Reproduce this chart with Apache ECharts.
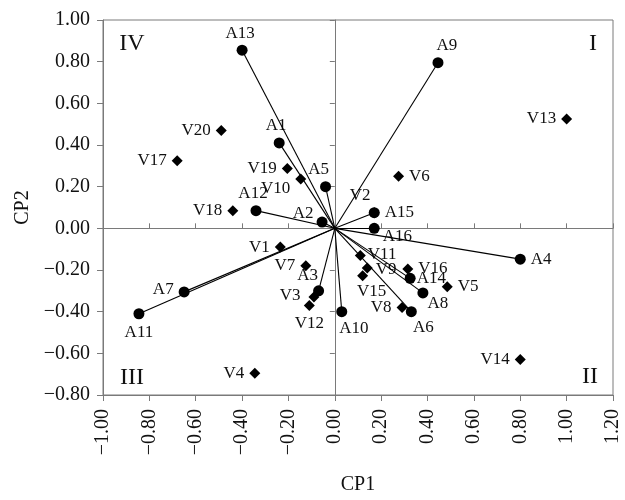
<!DOCTYPE html>
<html>
<head>
<meta charset="utf-8">
<script src="https://cdn.jsdelivr.net/npm/echarts@6/dist/echarts.min.js"></script>
<style>html,body{margin:0;padding:0;background:#fff}#c{width:625px;height:500px}</style>
</head>
<body>
<div id="c"></div>
<script>
// ---- data ----
const aNames = ['A1','A2','A3','A4','A5','A6','A7','A8','A9','A10','A11','A12','A13','A14','A15','A16'];
const aX = [-0.24,-0.055,-0.07,0.80,-0.04,0.33,-0.65,0.38,0.445,0.03,-0.845,-0.34,-0.40,0.325,0.17,0.17];
const aY = [0.41,0.03,-0.30,-0.148,0.20,-0.40,-0.305,-0.31,0.795,-0.40,-0.41,0.085,0.855,-0.24,0.075,0.0];

const vNames = ['V1','V2','V3','V4','V5','V6','V7','V8','V9','V10','V11','V12','V13','V14','V15','V16','V17','V18','V19','V20'];
const vX = [-0.235,0.17,-0.09,-0.345,0.485,0.275,-0.125,0.29,0.14,-0.147,0.11,-0.11,1.00,0.80,0.12,0.315,-0.68,-0.44,-0.205,-0.49];
const vY = [-0.09,0.075,-0.33,-0.695,-0.28,0.25,-0.18,-0.38,-0.19,0.237,-0.13,-0.37,0.525,-0.63,-0.227,-0.195,0.325,0.085,0.287,0.47];

const quadrantLabels = ['I','II','III','IV'];
const xAxisName = 'CP1';
const yAxisName = 'CP2';

// ---- label placement (style) ----
const labelPlace = {
  A1:['top',[-3,2]], A2:['left',[2,-9]], A3:['top',[-11,4]], A4:['right',[0,0]],
  A5:['top',[-7,2]], A6:['bottom',[12,-3]], A7:['left',[0,-2]], A8:['right',[-6,11]],
  A9:['top',[9,2]], A10:['bottom',[12,-2]], A11:['bottom',[0,0]], A12:['top',[-3,2]],
  A13:['top',[-2,2]], A14:['right',[-4,0]], A15:['right',[0,0]], A16:['right',[-2,8]],
  V1:['left',[0,0]], V2:['top',[-14,2]], V3:['left',[-3,-2]], V4:['left',[0,0]],
  V5:['right',[0,0]], V6:['right',[0,0]], V7:['left',[0,0]], V8:['left',[0,0]],
  V9:['right',[-2,2]], V10:['left',[0,10]], V11:['right',[-3,-1]], V12:['bottom',[0,-1]],
  V13:['left',[0,0]], V14:['left',[0,0]], V15:['bottom',[9,-3]], V16:['right',[0,0]],
  V17:['left',[0,0]], V18:['left',[0,0]], V19:['left',[0,0]], V20:['left',[0,0]]
};

const FONT = 'Liberation Serif';
const TXT = '#111';
const GREY = '#7a7a7a';

function fmt(v){
  if (Math.abs(v) < 1e-9) return '0.00';
  const s = v.toFixed(2);
  return s.replace('-', '\u2212');
}

function mkItem(name, x, y){
  const p = labelPlace[name] || ['right',[0,0]];
  return {name:name, value:[x,y], label:{position:p[0], offset:p[1]}};
}

const chart = echarts.init(document.getElementById('c'), null, {renderer:'canvas'});

const grid = {left:103, right:12, top:20, bottom:102, show:true, borderColor:GREY, borderWidth:1, backgroundColor:'transparent'};

const xMain = {
  type:'value', min:-1, max:1.2, interval:0.2, position:'bottom',
  name:xAxisName, nameLocation:'middle', nameGap:80,
  nameTextStyle:{fontFamily:FONT, fontSize:20, color:TXT},
  axisLine:{show:true, onZero:false, lineStyle:{color:GREY, width:1}},
  axisTick:{show:true, length:6, lineStyle:{color:GREY}},
  axisLabel:{rotate:90, margin:14, fontFamily:FONT, fontSize:20, color:TXT, formatter:fmt, showMinLabel:true, showMaxLabel:true},
  splitLine:{show:false}
};
const xZero = {
  type:'value', min:-1, max:1.2, interval:0.2, position:'top',
  axisLine:{show:true, onZero:true, lineStyle:{color:GREY, width:1}},
  axisTick:{show:true, length:5, inside:false, lineStyle:{color:GREY}},
  axisLabel:{show:false}, splitLine:{show:false}
};
const yMain = {
  type:'value', min:-0.8, max:1.0, interval:0.2, position:'left',
  name:yAxisName, nameLocation:'middle', nameGap:70,
  nameTextStyle:{fontFamily:FONT, fontSize:20, color:TXT},
  axisLine:{show:true, onZero:false, lineStyle:{color:GREY, width:1}},
  axisTick:{show:true, length:6, lineStyle:{color:GREY}},
  axisLabel:{margin:13, fontFamily:FONT, fontSize:20, color:TXT, formatter:fmt, showMinLabel:true, showMaxLabel:true},
  splitLine:{show:false}
};
const yZero = {
  type:'value', min:-0.8, max:1.0, interval:0.2, position:'right',
  axisLine:{show:true, onZero:true, lineStyle:{color:GREY, width:1}},
  axisTick:{show:true, length:5, inside:true, lineStyle:{color:GREY}},
  axisLabel:{show:false}, splitLine:{show:false}
};

const labelBase = {show:true, fontFamily:FONT, fontSize:17, color:TXT, distance:5, formatter:'{b}'};

chart.setOption({
  animation:false,
  backgroundColor:'#fff',
  grid:grid,
  xAxis:[xMain, xZero],
  yAxis:[yMain, yZero],
  series:[
    {
      type:'scatter', name:'V', xAxisIndex:0, yAxisIndex:0, z:2,
      symbol:'diamond', symbolSize:11,
      itemStyle:{color:'#000', opacity:1},
      label:labelBase,
      emphasis:{disabled:true},
      data:vNames.map((n,i)=>mkItem(n, vX[i], vY[i]))
    },
    {
      type:'scatter', name:'A', xAxisIndex:0, yAxisIndex:0, z:3,
      symbol:'circle', symbolSize:11,
      itemStyle:{color:'#000', opacity:1},
      label:labelBase,
      emphasis:{disabled:true},
      markLine:{
        silent:true, symbol:['none','none'], animation:false,
        label:{show:false},
        lineStyle:{color:'#000', width:1.1, type:'solid', opacity:1},
        emphasis:{disabled:true},
        data:aNames.map((n,i)=>[{coord:[0,0]},{coord:[aX[i],aY[i]]}])
      },
      data:aNames.map((n,i)=>mkItem(n, aX[i], aY[i]))
    }
  ],
  graphic:[
    {type:'text', x:593, y:44, style:{text:quadrantLabels[0], font:'24px "Liberation Serif"', fill:TXT, textAlign:'center', textVerticalAlign:'middle'}},
    {type:'text', x:590, y:377, style:{text:quadrantLabels[1], font:'24px "Liberation Serif"', fill:TXT, textAlign:'center', textVerticalAlign:'middle'}},
    {type:'text', x:132, y:378, style:{text:quadrantLabels[2], font:'24px "Liberation Serif"', fill:TXT, textAlign:'center', textVerticalAlign:'middle'}},
    {type:'text', x:132, y:44, style:{text:quadrantLabels[3], font:'24px "Liberation Serif"', fill:TXT, textAlign:'center', textVerticalAlign:'middle'}}
  ]
});
</script>
</body>
</html>
